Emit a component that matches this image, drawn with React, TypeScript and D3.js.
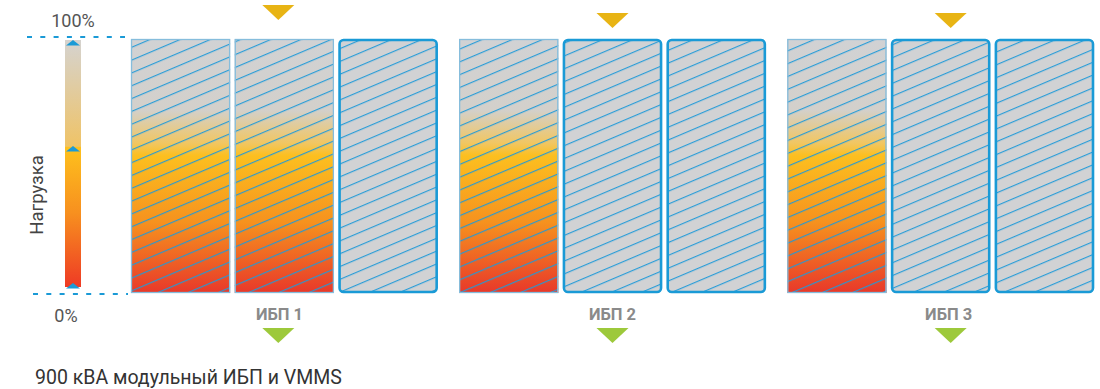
import React from "react";
import * as d3 from "d3";

const groups = ["ИБП 1", "ИБП 2", "ИБП 3"];
const modulesPerGroup = [3, 3, 3];
const loadedModules = [2, 1, 1];
const loadLevel = [100, 100, 100];
const goldMarkerOffset = [-6, 0, 10];
const goldMarkerDrop = [0, 8, 8];
const scaleTicks = ["0%", "100%"];
const axisTitle = "Нагрузка";
const caption = "900 кВА модульный ИБП и VMMS";

const W = 1100, H = 389;
const top = 39, bottom = 293;

export default function App() {
  const x = d3.scaleBand<string>().domain(groups).range([131, 1094]).paddingInner(0.0655);
  const y = d3.scaleLinear().domain([0, 100]).range([bottom, top]);
  const inner = d3.scaleBand<number>().domain([0, 1, 2]).range([0, x.bandwidth()]).paddingInner(0.045);
  const font = "Roboto, 'Noto Sans', sans-serif";

  return (
    <svg width={W} height={H} style={{ display: "block", position: "absolute", left: 0, top: 0 }}>
      <defs>
        <linearGradient id="boxGrad" gradientUnits="userSpaceOnUse" x1="0" x2="0" y1={y(100)} y2={y(0)}>
          <stop offset="0" stopColor="#d1d2d4" />
          <stop offset="0.28" stopColor="#d3d0cb" />
          <stop offset="0.41" stopColor="#f1c662" />
          <stop offset="0.46" stopColor="#fcbf1f" />
          <stop offset="0.72" stopColor="#f6921e" />
          <stop offset="1" stopColor="#e8382a" />
        </linearGradient>
        <linearGradient id="legGrad" gradientUnits="userSpaceOnUse" x1="0" x2="0" y1="40" y2="287">
          <stop offset="0" stopColor="#d5d3d0" />
          <stop offset="0.43" stopColor="#efc367" />
          <stop offset="0.435" stopColor="#fec11d" />
          <stop offset="0.7" stopColor="#f7901f" />
          <stop offset="1" stopColor="#ee3a25" />
        </linearGradient>
        <pattern id="hatch" patternUnits="userSpaceOnUse" width="20" height="11.8" patternTransform="rotate(-23)">
          <line x1="0" x2="20" y1="0.6" y2="0.6" stroke="#1f9ad8" strokeWidth="1.1" />
        </pattern>
      </defs>

      {/* legend */}
      <line x1={27} x2={125} y1={y(100) - 2} y2={y(100) - 2} stroke="#1a9ad6" strokeWidth={2} strokeDasharray="5 8.3" />
      <line x1={33} x2={128} y1={y(0) + 1} y2={y(0) + 1} stroke="#1a9ad6" strokeWidth={2} strokeDasharray="5 8.3" />
      <rect x={65} y={40} width={16} height={247} fill="url(#legGrad)" />
      {[40, 146, 283].map((ty, i) => (
        <path key={i} d={`M${73 - 7},${ty + 5.5} L${73},${ty} L${73 + 7},${ty + 5.5} Z`} fill="#1a9ad6" />
      ))}
      <text x={73} y={27} textAnchor="middle" fontFamily={font} fontSize={18} fill="#555">{scaleTicks[1]}</text>
      <text x={66} y={322} textAnchor="middle" fontFamily={font} fontSize={18} fill="#555">{scaleTicks[0]}</text>
      <text transform="translate(43,195) rotate(-90)" textAnchor="middle" fontFamily={font} fontSize={18.5} fill="#444">{axisTitle}</text>

      {groups.map((g, gi) => {
        const gx = x(g)!;
        const cx = gx + x.bandwidth() / 2;
        return (
          <g key={g}>
            {d3.range(modulesPerGroup[gi]).map((m) => {
              const bx = gx + inner(m)!;
              const bw = inner.bandwidth();
              const loaded = m < loadedModules[gi];
              if (loaded) {
                return (
                  <g key={m}>
                    <rect x={bx} y={y(100)} width={bw} height={y(0) - y(100)} fill="#d1d2d4" />
                    <rect x={bx} y={y(loadLevel[gi])} width={bw} height={y(0) - y(loadLevel[gi])} fill="url(#boxGrad)" />
                    <rect x={bx} y={y(100)} width={bw} height={y(0) - y(100)} fill="url(#hatch)" />
                    <rect x={bx + 0.5} y={y(100) + 0.5} width={bw - 1} height={y(0) - y(100) - 1} fill="none" stroke="#86bddc" strokeWidth={1.3} />
                  </g>
                );
              }
              return (
                <g key={m}>
                  <rect x={bx + 1} y={y(100) + 1} width={bw - 2} height={y(0) - y(100) - 2} rx={4} fill="#d1d2d4" />
                  <rect x={bx + 1} y={y(100) + 1} width={bw - 2} height={y(0) - y(100) - 2} rx={4} fill="url(#hatch)" stroke="#1a9ad6" strokeWidth={2.6} />
                </g>
              );
            })}
            <path d={`M${cx + goldMarkerOffset[gi] - 16},${5 + goldMarkerDrop[gi]} L${cx + goldMarkerOffset[gi] + 16},${5 + goldMarkerDrop[gi]} L${cx + goldMarkerOffset[gi]},${20 + goldMarkerDrop[gi]} Z`} fill="#e8b414" />
            <text x={cx + goldMarkerOffset[gi] * 0.8} y={320} textAnchor="middle" fontFamily={font} fontSize={16.5} fontWeight="bold" fill="#8a8a8a">{g}</text>
            <path d={`M${cx + goldMarkerOffset[gi] - 16},${328} L${cx + goldMarkerOffset[gi] + 16},${328} L${cx + goldMarkerOffset[gi]},${343} Z`} fill="#9dc93b" />
          </g>
        );
      })}

      <text x={35} y={384} fontFamily={font} fontSize={19.5} fill="#333">{caption}</text>
    </svg>
  );
}
